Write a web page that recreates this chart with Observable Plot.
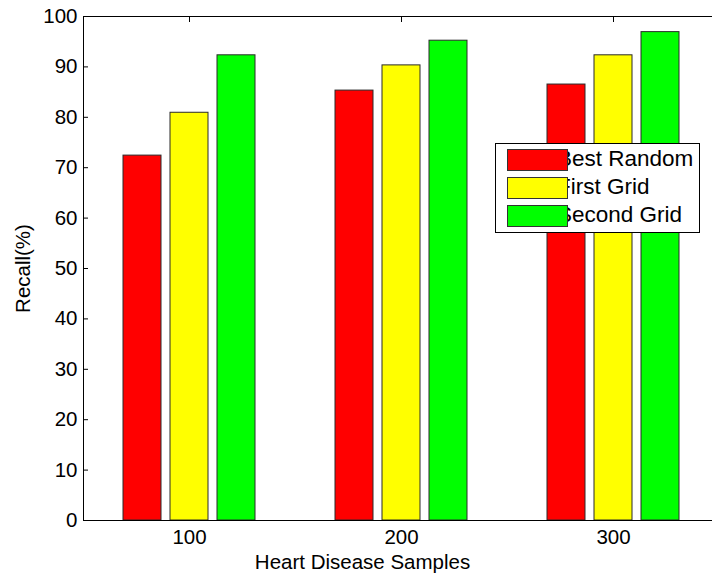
<!DOCTYPE html>
<html>
<head>
<meta charset="utf-8">
<script src="https://cdn.jsdelivr.net/npm/d3@7"></script>
<script src="https://cdn.jsdelivr.net/npm/@observablehq/plot@0.6"></script>
<style>
  html, body { margin: 0; padding: 0; background: #fff; overflow: hidden; }
  #wrap { position: relative; width: 712px; height: 574px; }
  #legend { position: absolute; left: 495px; top: 143px; width: 203px; height: 88px;
    border: 1px solid #000; background: #fff; font-family: "Liberation Sans", Arial, sans-serif; font-size: 22.5px; overflow: hidden; }
  .row { position: absolute; left: 0; height: 22px; width: 100%; }
  .row span.t { position: absolute; left: 61px; top: -1px; line-height: 22px; color: #000; white-space: nowrap; }
  .row span.s { position: absolute; left: 11px; top: 0; width: 59px; height: 20px; border: 1px solid #333; }
</style>
</head>
<body>
<div id="wrap"></div>
<script>
const samples = ["100", "200", "300"];
const series = ["Best Random", "First Grid", "Second Grid"];
const bestRandom = [72.4, 85.3, 86.5];
const firstGrid = [80.9, 90.3, 92.3];
const secondGrid = [92.3, 95.2, 96.9];
const yTicks = [0, 10, 20, 30, 40, 50, 60, 70, 80, 90, 100];
const xLabel = "Heart Disease Samples";
const yLabel = "Recall(%)";

const colors = ["#ff0000", "#ffff00", "#00ff00"];
const valuesBySeries = [bestRandom, firstGrid, secondGrid];
const rows = [];
series.forEach((s, i) => samples.forEach((x, j) => rows.push({sample: x, series: s, value: valuesBySeries[i][j]})));

const barOffsets = [-47, 0, 47];
const barMarks = series.map((s, i) => Plot.barY(rows.filter(d => d.series === s), {
  x: "sample", y: "value", fill: colors[i], stroke: "#2a2a2a", strokeWidth: 1,
  insetLeft: 87, insetRight: 87, dx: barOffsets[i]
}));

const chart = Plot.plot({
  width: 712, height: 574,
  marginLeft: 83, marginRight: -7, marginTop: 16, marginBottom: 54,
  style: {fontFamily: "'Liberation Sans', Arial, sans-serif", fontSize: "20px", color: "#000", background: "#fff"},
  x: {type: "band", domain: samples, padding: 0},
  y: {domain: [0, 100]},
  marks: [
    ...barMarks,
    Plot.axisY({ticks: yTicks, tickSize: -5, tickPadding: 11, label: yLabel, labelAnchor: "center", labelArrow: "none", labelOffset: 68, fontSize: 20.5}),
    Plot.axisX({anchor: "top", tickSize: -5, text: null, label: null}),
    Plot.axisX({anchor: "bottom", tickSize: 0, tickPadding: 9, label: null, fontSize: 20.5}),
    Plot.text([xLabel], {text: d => d, frameAnchor: "bottom", lineAnchor: "bottom", dy: 48, dx: -39, fontSize: 20.5, fill: "#000"}),
    Plot.frame({stroke: "#000", strokeWidth: 1})
  ]
});
const wrap = document.getElementById("wrap");
wrap.appendChild(chart);

const legend = document.createElement("div");
legend.id = "legend";
series.forEach((s, i) => {
  const row = document.createElement("div");
  row.className = "row";
  row.style.top = (5 + i * 28) + "px";
  const t = document.createElement("span"); t.className = "t"; t.textContent = s;
  const sw = document.createElement("span"); sw.className = "s"; sw.style.background = colors[i];
  row.appendChild(t); row.appendChild(sw);
  legend.appendChild(row);
});
wrap.appendChild(legend);
</script>
</body>
</html>
